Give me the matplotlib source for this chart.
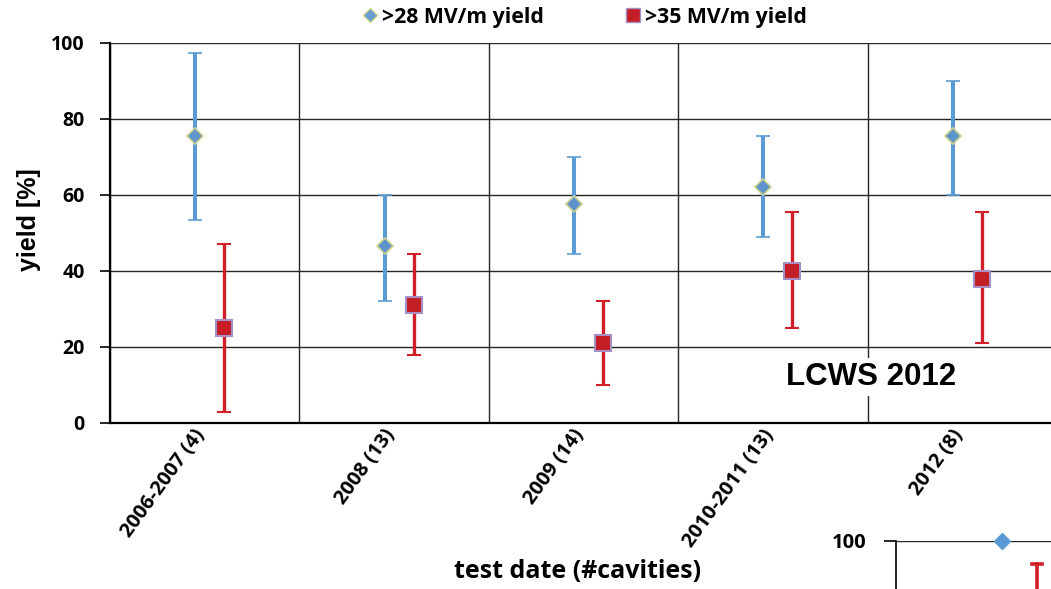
import numpy as np
import matplotlib
matplotlib.use('Agg')
import matplotlib.pyplot as plt
from matplotlib.lines import Line2D

# test periods and yields
periods = ['2006-2007 (4)', '2008 (13)', '2009 (14)', '2010-2011 (13)', '2012 (8)']

yield28 = [75.5, 46.5, 57.5, 62.0, 75.5]
yield28_hi = [97.5, 60.0, 70.0, 75.5, 90.0]
yield28_lo = [53.5, 32.0, 44.5, 49.0, 60.0]

yield35 = [25.0, 31.0, 21.0, 40.0, 38.0]
yield35_hi = [47.0, 44.5, 32.0, 55.5, 55.5]
yield35_lo = [3.0, 18.0, 10.0, 25.0, 21.0]

# second chart peeking in at the bottom right corner
inset_blue = [100.0]
inset_red_hi = [94.0]
inset_red_lo = [70.0]

blue = '#5B9BD5'
red = '#D01F28'
calib = 'Open Sans'
arial = 'Liberation Sans'

fig = plt.figure(figsize=(10.51, 5.89), dpi=100)
W, H = 1051.0, 589.0
ax = fig.add_axes([110 / W, (H - 423) / H, (1057 - 110) / W, 380 / H])

x = np.arange(len(periods))
y28 = np.array(yield28)
y35 = np.array(yield35)
err28 = [y28 - np.array(yield28_lo), np.array(yield28_hi) - y28]
err35 = [y35 - np.array(yield35_lo), np.array(yield35_hi) - y35]

ax.errorbar(x - 0.05, y28, yerr=err28, fmt='D', color=blue, ecolor=blue,
            elinewidth=2.9, capsize=5, capthick=2.6, markersize=8.5,
            markerfacecolor='#5F93CC', markeredgecolor='#C9D28E',
            markeredgewidth=1.2, zorder=3)
ax.errorbar(x + 0.103, y35, yerr=err35, fmt='s', color=red, ecolor=red,
            elinewidth=2.4, capsize=5, capthick=2.6, markersize=11,
            markerfacecolor='#C41E26', markeredgecolor='#A690C6',
            markeredgewidth=1.5, zorder=3)

ax.set_xlim(-0.5, 4.5)
ax.set_ylim(0, 100)
ax.set_yticks([0, 20, 40, 60, 80, 100])
ax.set_xticks(np.arange(-0.5, 4.6, 1.0))
ax.set_xticklabels([])
ax.set_xticks(x - 0.06, minor=True)
ax.set_xticklabels(periods, minor=True, rotation=54, ha='right', va='top',
                   rotation_mode='anchor', fontsize=14.5, fontweight='bold',
                   family=calib)
ax.tick_params(axis='x', which='both', length=0, pad=2)
ax.tick_params(axis='y', length=7, width=1.2, pad=11, labelsize=14)
for lab in ax.get_yticklabels():
    lab.set_fontweight('bold')
    lab.set_family(calib)

ax.grid(True, which='major', color='#262626', linewidth=1.0)
ax.set_axisbelow(True)
for s in ['top', 'right']:
    ax.spines[s].set_visible(False)
ax.spines['left'].set_linewidth(1.6)
ax.spines['bottom'].set_linewidth(1.6)

ax.set_ylabel('yield [%]', fontsize=18, fontweight='bold', family=arial)
ax.yaxis.set_label_coords(-0.073, 0.535)
fig.text(578 / W, 1 - 572 / H, 'test date (#cavities)', ha='center', va='center',
         fontsize=18, fontweight='bold', family=calib)

t = fig.text(871 / W, 1 - 377 / H, 'LCWS 2012', ha='center', va='center',
             fontsize=22.5, fontweight='bold', family=arial, zorder=4)
t.set_bbox(dict(facecolor='white', edgecolor='none', pad=3))

handles = [
    Line2D([], [], marker='D', linestyle='none', markersize=7,
           markerfacecolor='#6A9BD1', markeredgecolor='#C9D28E'),
    Line2D([], [], marker='s', linestyle='none', markersize=10,
           markerfacecolor='#C41E26', markeredgecolor='#A690C6'),
]
leg = fig.legend(handles, ['>28 MV/m yield', '>35 MV/m yield'], loc='center',
                 bbox_to_anchor=(583 / W, 1 - 17 / H), ncol=2, frameon=False,
                 handletextpad=0.05, columnspacing=3.7, handlelength=1.0,
                 prop={'family': calib, 'weight': 'bold', 'size': 15.3})

# partial second chart
ax2 = fig.add_axes([896 / W, (H - 921) / H, 200 / W, 380 / H])
ax2.set_xlim(0, 1)
ax2.set_ylim(0, 100)
ax2.plot([0.53], inset_blue, 'D', color='#5B9BD5', markersize=8.5,
         markeredgecolor='#5B9BD5', clip_on=False, zorder=3)
ax2.plot([0.705, 0.705], [inset_red_lo[0], inset_red_hi[0]], color=red, linewidth=2.6)
ax2.plot([0.68, 0.73], [inset_red_hi[0], inset_red_hi[0]], color=red, linewidth=2.6)
ax2.set_yticks([100])
ax2.set_xticks([])
ax2.tick_params(axis='y', length=9, width=1.2, pad=12, labelsize=14.5)
for lab in ax2.get_yticklabels():
    lab.set_fontweight('bold')
    lab.set_family(calib)
ax2.grid(True, axis='y', color='#262626', linewidth=1.0)
for s in ['top', 'right', 'bottom']:
    ax2.spines[s].set_visible(False)
ax2.spines['left'].set_linewidth(1.2)
ax2.patch.set_visible(False)

fig.savefig('out.png', dpi=100)
